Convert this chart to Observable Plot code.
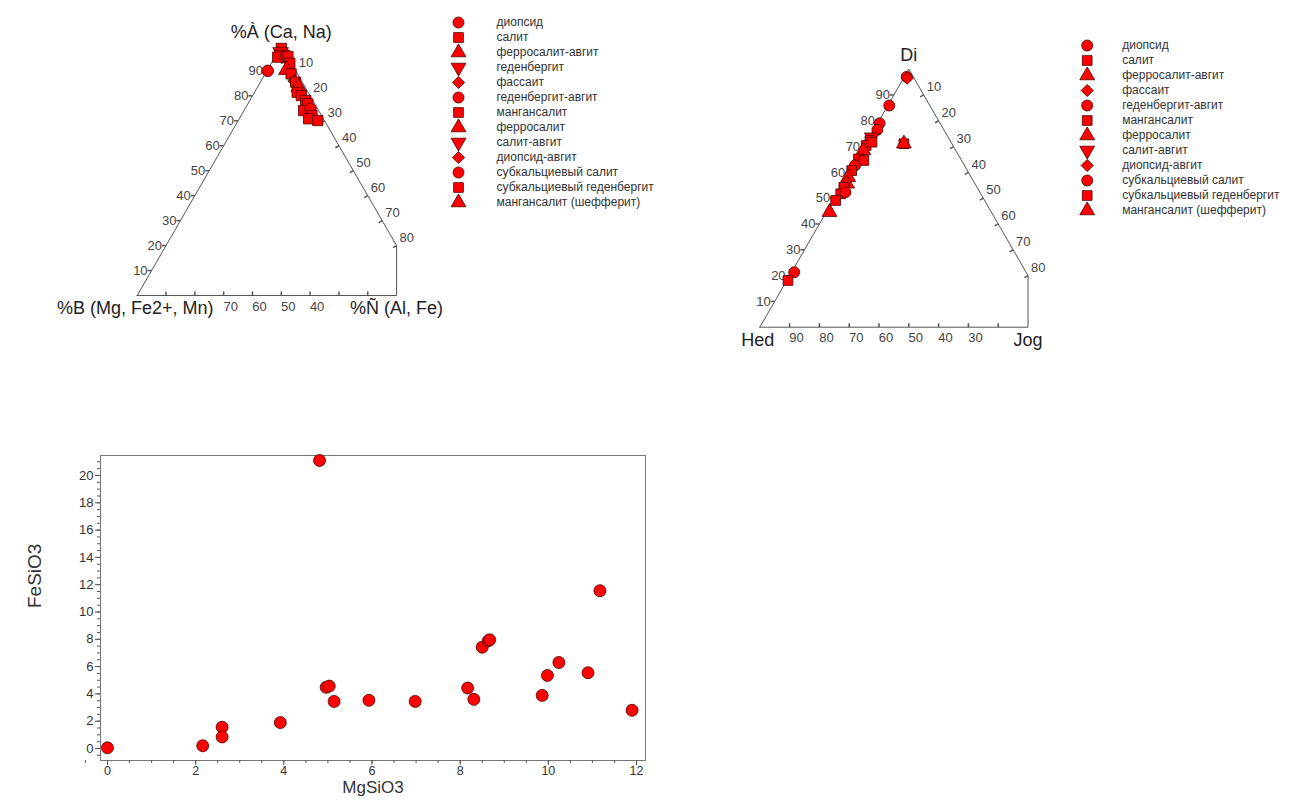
<!DOCTYPE html>
<html><head><meta charset="utf-8">
<script src="https://cdn.jsdelivr.net/npm/d3@7"></script>
<script src="https://cdn.jsdelivr.net/npm/@observablehq/plot@0.6"></script>
<style>
body{margin:0;background:#fff;font-family:"Liberation Sans",Arial,sans-serif;}
#root{position:relative;width:1302px;height:802px;overflow:hidden;background:#fff;}
.p{position:absolute;}
</style></head><body><div id="root">
<div class="p" id="t1" style="left:0;top:0"></div>
<div class="p" id="l1" style="left:440px;top:0"></div>
<div class="p" id="t2" style="left:700px;top:30px"></div>
<div class="p" id="l2" style="left:1060px;top:30px"></div>
<div class="p" id="sc" style="left:0;top:440px"></div>
</div>
<script>
// ---------- data ----------
const legend1 = ["диопсид","салит","ферросалит-авгит","геденбергит","фассаит","геденбергит-авгит","мангансалит","ферросалит","салит-авгит","диопсид-авгит","субкальциевый салит","субкальциевый геденбергит","мангансалит (шефферит)"];
const legend2 = ["диопсид","салит","ферросалит-авгит","фассаит","геденбергит-авгит","мангансалит","ферросалит","салит-авгит","диопсид-авгит","субкальциевый салит","субкальциевый геденбергит","мангансалит (шефферит)"];

// Ternary 1: A = %À (Ca, Na), C = %Ñ (Al, Fe), B = 100 - A - C
const t1Cat = ["салит","геденбергит","салит-авгит","мангансалит","диопсид","геденбергит-авгит","салит","салит","ферросалит","салит","фассаит","салит","ферросалит-авгит","салит","салит","мангансалит","салит","салит","субкальциевый салит","салит","субкальциевый геденбергит","салит"];
const t1A = [99,97.5,96.5,95.5,90,95.5,95.8,93.1,90.4,88.8,86,85.5,83.5,81.4,80.1,78.1,76.8,74.1,74.8,72.1,70.8,70.1];
const t1C = [0.5,1,2,1,0.3,3.8,4.4,6.4,6.6,9,11.5,12.2,14.3,14.8,16.9,19.4,20.8,20.7,22.7,24.6,24.1,27.6];

// Ternary 2: A = Di, C = Jog, B = Hed
const t2Cat = ["диопсид","диопсид-авгит","диопсид","диопсид","субкальциевый салит","салит-авгит","салит","салит","салит","ферросалит","салит","салит","геденбергит-авгит","салит","ферросалит-авгит","ферросалит","салит","салит","геденбергит-авгит","субкальциевый геденбергит","ферросалит-авгит","диопсид","субкальциевый геденбергит","мангансалит","мангансалит (шефферит)"];
const t2A = [97,96.5,85.9,79,76.5,73.6,72.3,70.4,71.7,68.5,65.2,64.6,62.7,60.7,58.1,55.6,54.2,51.7,52.3,49.1,44.6,21.3,18.1,71.1,71.1];
const t2C = [0.8,1.2,0.5,0.7,1.2,0.8,0.8,0.5,1.8,0.5,0.5,2.6,0.6,0.5,0.6,1.5,1.1,1.3,2.6,0.9,1.1,0.9,0.4,12.8,12.8];

// Scatter
const mgSiO3 = [0,2.16,2.6,2.6,3.92,4.81,4.96,5.03,5.14,5.93,6.98,8.17,8.31,8.5,8.64,8.67,9.86,9.98,10.24,10.9,11.17,11.9];
const feSiO3 = [0.05,0.2,1.56,0.85,1.9,21.1,4.48,4.57,3.45,3.53,3.45,4.43,3.6,7.42,7.9,7.96,3.89,5.35,6.3,5.55,11.56,2.8];

// tick values
const t1LeftTicks = [10,20,30,40,50,60,70,80,90];
const t1RightTicks = [10,20,30,40,50,60,70,80];
const t1BaseTicks = [90,80,70,60,50,40,30,20];
const t1BaseLabels = [70,60,50,40];
const t2LeftTicks = [10,20,30,40,50,60,70,80,90];
const t2RightTicks = [10,20,30,40,50,60,70,80];
const t2BaseTicks = [90,80,70,60,50,40,30,20];
const t2BaseLabels = [90,80,70,60,50,40,30];
const xTicks = [0,2,4,6,8,10,12];
const yTicks = [0,2,4,6,8,10,12,14,16,18,20];

// ---------- helpers ----------
const S3 = Math.sqrt(3) / 2;
const tx = (a, c) => c + a / 2;
const ty = (a) => a * S3;
const FONT = "'Liberation Sans', Arial, sans-serif";

const invTriangle = {
  draw(ctx, size) {
    const s3 = Math.sqrt(3);
    const y = -Math.sqrt(size / (s3 * 3));
    ctx.moveTo(0, -y * 2);
    ctx.lineTo(-s3 * y, y);
    ctx.lineTo(s3 * y, y);
    ctx.closePath();
  }
};
const shapes = ["circle", "square", "triangle", invTriangle, "diamond2"];
const tickLeft = {draw(ctx) { ctx.moveTo(-4, 0); ctx.lineTo(0, 0); }};
const tickUp = {draw(ctx) { ctx.moveTo(0, -4); ctx.lineTo(0, 0); }};
const tickIn = {draw(ctx) { ctx.moveTo(-3.5, 2); ctx.lineTo(0, 0); }};

const MFILL = "#ff0000", MSTROKE = "#4a0000";

function ternary({cats, A, C, leftTicks, rightTicks, baseTicks, baseLabels, width, height, x0, side, y0, titles, r}) {
  const rows = cats.map((cat, i) => ({cat, x: tx(A[i], C[i]), y: ty(A[i])}));
  const outline = [[0, 0], [100, 0], [20, 80], [0, 90], [0, 0]].map(([a, c]) => ({x: tx(a, c), y: ty(a)}));
  const lab = {fontSize: 13, fill: "#444"};
  return Plot.plot({
    width, height, margin: 0,
    style: {fontFamily: FONT, background: "transparent"},
    x: {domain: [0, 100], range: [x0, x0 + side], axis: null},
    y: {domain: [0, 100 * S3], range: [y0, y0 - side * S3], axis: null},
    symbol: {domain: legend1, range: shapes},
    marks: [
      Plot.line(outline, {x: "x", y: "y", stroke: "#555", strokeWidth: 1}),
      Plot.dot(leftTicks, {x: d => tx(d, 0), y: d => ty(d), symbol: tickLeft, fill: "none", stroke: "#555"}),
      Plot.dot(rightTicks, {x: d => tx(100 - d, d), y: d => ty(100 - d), symbol: tickIn, fill: "none", stroke: "#555"}),
      Plot.dot(baseTicks, {x: d => tx(0, 100 - d), y: () => 0, symbol: tickUp, fill: "none", stroke: "#555"}),
      Plot.text(leftTicks, {x: d => tx(d, 0), y: d => ty(d), text: d => String(d), textAnchor: "end", dx: -4, ...lab}),
      Plot.text(rightTicks, {x: d => tx(100 - d, d), y: d => ty(100 - d), text: d => String(d), textAnchor: "start", dx: 3, dy: -8, ...lab}),
      Plot.text(baseLabels, {x: d => tx(0, 100 - d), y: () => 0, text: d => String(d), textAnchor: "middle", dx: 7, dy: 11, ...lab}),
      Plot.text([titles.top], {x: () => 50, y: () => ty(100), text: d => d, dy: -14, fontSize: 18, fill: "#222"}),
      Plot.text([titles.left], {x: () => 0, y: () => 0, text: d => d, dy: 13, dx: -2, fontSize: 18, fill: "#222"}),
      Plot.text([titles.right], {x: () => 90, y: () => 0, text: d => d, dy: 13, fontSize: 18, fill: "#222"}),
      Plot.dot(rows, {x: "x", y: "y", symbol: "cat", r, fill: MFILL, stroke: MSTROKE, strokeWidth: 0.8})
    ]
  });
}

function legend(items, {width, height, xs, ys}) {
  return Plot.plot({
    width, height, margin: 0,
    style: {fontFamily: FONT, background: "transparent"},
    x: {domain: [0, 1], range: xs, axis: null},
    y: {type: "point", domain: items, range: ys, padding: 0, axis: null},
    symbol: {domain: legend1, range: shapes},
    marks: [
      Plot.dot(items, {x: () => 0, y: d => d, symbol: d => d, r: 5.5, fill: MFILL, stroke: MSTROKE, strokeWidth: 0.8}),
      Plot.text(items, {x: () => 1, y: d => d, text: d => d, textAnchor: "start", fontSize: 12, fill: "#333"})
    ]
  });
}

document.getElementById("t1").append(ternary({
  cats: t1Cat, A: t1A, C: t1C, leftTicks: t1LeftTicks, rightTicks: t1RightTicks,
  baseTicks: t1BaseTicks, baseLabels: t1BaseLabels, width: 450, height: 330,
  x0: 136.7, side: 288.2, y0: 295, r: 5.8,
  titles: {top: "%À (Ca, Na)", left: "%B (Mg, Fe2+, Mn)", right: "%Ñ (Al, Fe)"}
}));
document.getElementById("l1").append(legend(legend1, {width: 250, height: 225, xs: [18, 56], ys: [18.3, 205]}));
document.getElementById("t2").append(ternary({
  cats: t2Cat, A: t2A, C: t2C, leftTicks: t2LeftTicks, rightTicks: t2RightTicks,
  baseTicks: t2BaseTicks, baseLabels: t2BaseLabels, width: 380, height: 330,
  x0: 59.3, side: 298, y0: 296.7, r: 5.5,
  titles: {top: "Di", left: "Hed", right: "Jog"}
}));
document.getElementById("l2").append(legend(legend2, {width: 242, height: 200, xs: [26.7, 61.7], ys: [13.3, 181.7]}));

const scRows = mgSiO3.map((m, i) => ({m, f: feSiO3[i]}));
document.getElementById("sc").append(Plot.plot({
  width: 660, height: 362, marginLeft: 100, marginRight: 15, marginTop: 15, marginBottom: 42,
  style: {fontFamily: FONT, background: "transparent"},
  x: {domain: [0, 12], range: [107, 636]},
  y: {domain: [0, 20], range: [308, 35]},
  marks: [
    Plot.frame({stroke: "#777"}),
    Plot.axisX({ticks: d3.range(-0.5, 12.01, 0.5), tickSize: 3, tickFormat: () => "", stroke: "#555", label: null}),
    Plot.axisX({ticks: xTicks, tickSize: 5, tickPadding: 1, fontSize: 12.5, color: "#333", stroke: "#555", label: null}),
    Plot.axisY({ticks: d3.range(-0.5, 21.01, 0.5), tickSize: 3, tickFormat: () => "", stroke: "#555", label: null}),
    Plot.axisY({ticks: yTicks, tickSize: 5, tickPadding: 2, fontSize: 13, color: "#333", stroke: "#555", label: null}),
    Plot.text(["MgSiO3"], {frameAnchor: "bottom", dy: 32, fontSize: 17, fill: "#333"}),
    Plot.text(["FeSiO3"], {frameAnchor: "left", dx: -66, rotate: -90, fontSize: 19, fill: "#333"}),
    Plot.dot(scRows, {x: "m", y: "f", r: 6, fill: MFILL, stroke: MSTROKE, strokeWidth: 0.8})
  ]
}));
</script></body></html>
